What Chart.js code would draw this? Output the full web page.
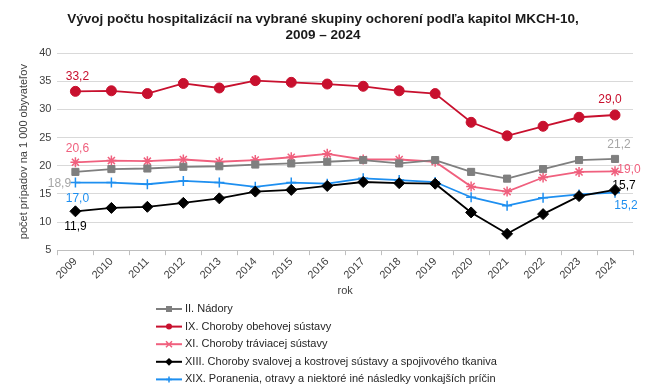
<!DOCTYPE html>
<html>
<head>
<meta charset="utf-8">
<script src="https://cdn.jsdelivr.net/npm/chart.js@4.4.1/dist/chart.umd.min.js"></script>
<style>
  html, body { margin: 0; padding: 0; background: #fff; }
  #wrap { width: 650px; height: 389px; position: relative; }
</style>
</head>
<body>
<div id="wrap"><canvas id="chart"></canvas></div>
<script>
const YEARS = ["2009", "2010", "2011", "2012", "2013", "2014", "2015", "2016",
  "2017", "2018", "2019", "2020", "2021", "2022", "2023", "2024"];

const NADORY = [18.9, 19.4, 19.5, 19.8, 19.9, 20.2, 20.4, 20.7, 21.0, 20.4, 21.0, 18.9, 17.7, 19.4, 21.0, 21.2];
const OBEHOVA = [33.2, 33.3, 32.8, 34.6, 33.8, 35.1, 34.8, 34.5, 34.1, 33.3, 32.8, 27.7, 25.3, 27.0, 28.6, 29.0];
const TRAVIACA = [20.6, 20.9, 20.8, 21.1, 20.7, 21.0, 21.5, 22.1, 21.1, 21.1, 20.7, 16.3, 15.4, 17.9, 18.9, 19.0];
const SVALOVA = [11.9, 12.5, 12.7, 13.4, 14.2, 15.4, 15.7, 16.4, 17.1, 16.9, 16.8, 11.7, 7.9, 11.4, 14.6, 15.7];
const PORANENIA = [17.0, 17.0, 16.7, 17.3, 17.0, 16.25, 17.0, 16.8, 17.75, 17.45, 17.1, 14.4, 12.9, 14.3, 14.9, 15.2];

const SERIES_NAMES = [
  "II. Nádory",
  "IX. Choroby obehovej sústavy",
  "XI. Choroby tráviacej sústavy",
  "XIII. Choroby svalovej a kostrovej sústavy a spojivového tkaniva",
  "XIX. Poranenia, otravy a niektoré iné následky vonkajších príčin",
];

const FONT = "'Liberation Sans', Arial, sans-serif";

// label offsets (first / last point) per series, in px
const LABEL_POS = [
  { first: [-16, 12], last: [4, -14], color: "#a6a6a6" },
  { first: [2, -15], last: [-5, -15], color: "#c8102e" },
  { first: [2, -14], last: [14, -2], color: "#f0607e" },
  { first: [0, 15], last: [9, -4], color: "#000000" },
  { first: [2, 16], last: [11, 13], color: "#1e8ff0" },
];

function fmt(v) {
  return v.toFixed(1).replace(".", ",");
}

function drawMarker(ctx, style, x, y, r, color) {
  ctx.save();
  ctx.fillStyle = color;
  ctx.strokeStyle = color;
  ctx.lineWidth = 1.5;
  ctx.beginPath();
  if (style === "rect") {
    ctx.fillRect(x - r, y - r, 2 * r, 2 * r);
  } else if (style === "circle") {
    ctx.arc(x, y, r, 0, Math.PI * 2);
    ctx.fill();
  } else if (style === "rectRot") {
    ctx.moveTo(x, y - r * 1.3);
    ctx.lineTo(x + r * 1.3, y);
    ctx.lineTo(x, y + r * 1.3);
    ctx.lineTo(x - r * 1.3, y);
    ctx.closePath();
    ctx.fill();
  } else if (style === "star") {
    ctx.moveTo(x - r, y - r); ctx.lineTo(x + r, y + r);
    ctx.moveTo(x - r, y + r); ctx.lineTo(x + r, y - r);
    ctx.moveTo(x - r, y); ctx.lineTo(x + r, y);
    ctx.stroke();
  } else if (style === "cross") {
    ctx.moveTo(x, y - r); ctx.lineTo(x, y + r);
    ctx.moveTo(x - r, y); ctx.lineTo(x + r, y);
    ctx.stroke();
  }
  ctx.restore();
}

const endLabels = {
  id: "endLabels",
  afterDatasetsDraw(chart) {
    const ctx = chart.ctx;
    ctx.save();
    ctx.font = "12px " + FONT;
    ctx.textAlign = "center";
    ctx.textBaseline = "middle";
    chart.data.datasets.forEach((ds, i) => {
      const pts = chart.getDatasetMeta(i).data;
      const pos = LABEL_POS[i];
      ctx.fillStyle = pos.color;
      const a = pts[0], b = pts[pts.length - 1];
      ctx.fillText(fmt(ds.data[0]), a.x + pos.first[0], a.y + pos.first[1]);
      ctx.fillText(fmt(ds.data[ds.data.length - 1]), b.x + pos.last[0], b.y + pos.last[1]);
    });
    ctx.restore();
  },
};

const listLegend = {
  id: "listLegend",
  afterDraw(chart) {
    const ctx = chart.ctx;
    ctx.save();
    ctx.font = "11px " + FONT;
    ctx.textBaseline = "middle";
    ctx.textAlign = "left";
    chart.data.datasets.forEach((ds, i) => {
      const y = 309 + i * 17.6;
      ctx.strokeStyle = ds.borderColor;
      ctx.lineWidth = 2;
      ctx.beginPath();
      ctx.moveTo(156, y);
      ctx.lineTo(182, y);
      ctx.stroke();
      drawMarker(ctx, ds.pointStyle, 169, y, 3, ds.borderColor);
      ctx.fillStyle = "#262626";
      ctx.fillText(ds.label, 185, y);
    });
    ctx.restore();
  },
};

function makeDataset(label, data, color, style, radius) {
  return {
    label,
    data,
    borderColor: color,
    backgroundColor: color,
    pointBackgroundColor: color,
    pointBorderColor: color,
    pointStyle: style,
    pointRadius: radius,
    pointBorderWidth: style === "star" || style === "cross" ? 1.5 : 1,
    borderWidth: 1.8,
    tension: 0,
  };
}

const ctx = document.getElementById("chart").getContext("2d");
new Chart(ctx, {
  type: "line",
  data: {
    labels: YEARS,
    datasets: [
      makeDataset(SERIES_NAMES[0], NADORY, "#7f7f7f", "rect", 5),
      makeDataset(SERIES_NAMES[1], OBEHOVA, "#c8102e", "circle", 5),
      makeDataset(SERIES_NAMES[2], TRAVIACA, "#f0607e", "star", 5),
      makeDataset(SERIES_NAMES[3], SVALOVA, "#000000", "rectRot", 5.5),
      makeDataset(SERIES_NAMES[4], PORANENIA, "#1e8ff0", "cross", 5),
    ],
  },
  options: {
    responsive: true,
    maintainAspectRatio: false,
    animation: false,
    layout: { padding: { left: 13, right: 17, top: 4, bottom: 87 } },
    plugins: {
      legend: { display: false },
      tooltip: { enabled: false },
      title: {
        display: true,
        text: ["Vývoj počtu hospitalizácií na vybrané skupiny ochorení podľa kapitol MKCH-10,", "2009 – 2024"],
        color: "#1a1a1a",
        font: { family: FONT, size: 13.5, weight: "bold", lineHeight: 1.15 },
        padding: { top: 8, bottom: 10 },
      },
    },
    scales: {
      x: {
        offset: true,
        grid: { display: true, offset: true, drawOnChartArea: false, tickLength: 5, color: "#bfbfbf" },
        border: { display: true, color: "#bfbfbf" },
        ticks: { color: "#404040", font: { family: FONT, size: 11 }, minRotation: 45, maxRotation: 45, padding: 0 },
        title: { display: true, text: "rok", color: "#404040", font: { family: FONT, size: 11 }, padding: { top: 3 } },
      },
      y: {
        min: 5,
        max: 40,
        ticks: { stepSize: 5, color: "#404040", font: { family: FONT, size: 11 }, padding: 6 },
        grid: { color: "#d9d9d9", drawTicks: false },
        border: { display: false },
        title: { display: true, text: "počet prípadov na 1 000 obyvateľov", color: "#404040", font: { family: FONT, size: 11 }, padding: { bottom: 3 } },
      },
    },
  },
  plugins: [endLabels, listLegend],
});
</script>
</body>
</html>
